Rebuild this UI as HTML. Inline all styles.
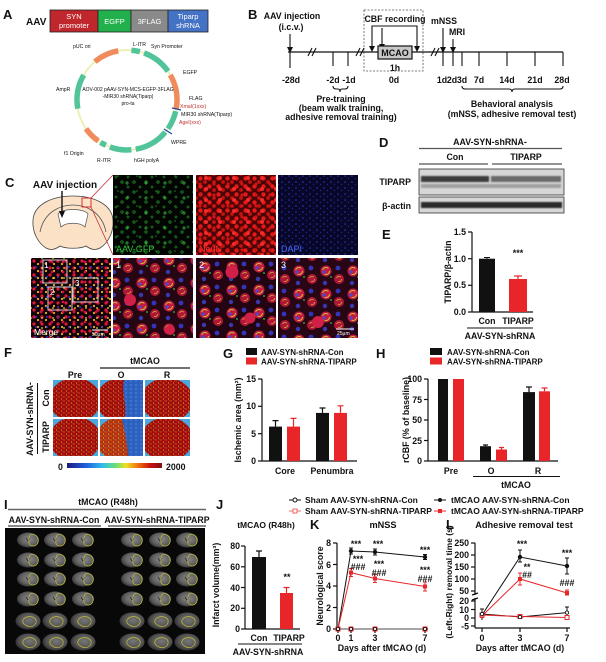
<!DOCTYPE html>
<html><head><meta charset="utf-8"><style>
html,body{margin:0;padding:0;background:#fff;}
svg{display:block;}
text{font-family:"Liberation Sans",Arial,sans-serif;font-weight:bold;fill:#111;}
.n{font-weight:normal;}
</style></head><body>
<svg width="606" height="662" viewBox="0 0 606 662" xmlns="http://www.w3.org/2000/svg">
<defs>
<pattern id="gfp" width="12" height="10" patternUnits="userSpaceOnUse"><circle cx="2" cy="2" r="1.2" fill="none" stroke="#2aa832" stroke-width="0.7"/><circle cx="8" cy="7" r="1" fill="none" stroke="#1f7f24" stroke-width="0.7"/></pattern>
<pattern id="gfp2" width="19" height="15" patternUnits="userSpaceOnUse"><circle cx="13" cy="3" r="1.1" fill="none" stroke="#38c440" stroke-width="0.7"/><circle cx="4" cy="11" r="0.8" fill="#227a22"/></pattern>
<pattern id="neun" width="9" height="8" patternUnits="userSpaceOnUse"><circle cx="2.5" cy="2.5" r="2.2" fill="#e81818"/><circle cx="7" cy="6" r="1.9" fill="#c81010"/></pattern>
<pattern id="neun2" width="14" height="11" patternUnits="userSpaceOnUse"><circle cx="10" cy="2" r="2" fill="#f52a2a"/><circle cx="4" cy="8" r="1.6" fill="#d01414"/></pattern>
<pattern id="dapi" width="7" height="6" patternUnits="userSpaceOnUse"><circle cx="2" cy="2" r="0.8" fill="#3434b8"/><circle cx="5.5" cy="4.5" r="0.7" fill="#24248a"/></pattern>
<pattern id="mrg" width="8" height="7" patternUnits="userSpaceOnUse"><circle cx="2" cy="2" r="1.6" fill="#e0183a"/><circle cx="6" cy="5" r="1.1" fill="#e8b020"/></pattern>
<pattern id="mrg2" width="11" height="10" patternUnits="userSpaceOnUse"><circle cx="8" cy="2" r="1.4" fill="#d01040"/><circle cx="3" cy="7" r="1" fill="#3030c0"/><circle cx="9" cy="8" r="0.9" fill="#e0e040"/></pattern>
<pattern id="cell" width="27" height="23" patternUnits="userSpaceOnUse">
<circle cx="7" cy="7" r="5.5" fill="#c41a44"/><circle cx="7" cy="7" r="3.5" fill="none" stroke="#c8c030" stroke-width="1" stroke-dasharray="7 5"/><circle cx="5" cy="8" r="1.6" fill="#4a4ac8"/>
<circle cx="20" cy="15" r="5" fill="#b01638"/><circle cx="20" cy="15" r="2.6" fill="none" stroke="#c8b030" stroke-width="0.8" stroke-dasharray="5 4"/>
<circle cx="19" cy="4" r="2.4" fill="#3434b8"/><circle cx="6" cy="19" r="2.2" fill="#3838b0"/><circle cx="12" cy="13" r="0.9" fill="#40c040"/>
</pattern>
<pattern id="spk" width="5" height="4" patternUnits="userSpaceOnUse"><circle cx="1" cy="1" r="0.7" fill="#f06a18"/><circle cx="3.5" cy="3" r="0.6" fill="#e8c030"/><circle cx="4.2" cy="0.6" r="0.35" fill="#5ab0e0"/></pattern>
<pattern id="spkb" width="5" height="4" patternUnits="userSpaceOnUse"><circle cx="1" cy="1" r="0.7" fill="#4ab0e8"/><circle cx="3.5" cy="3" r="0.5" fill="#2040a0"/></pattern>
<linearGradient id="cbar" x1="0" x2="1" y1="0" y2="0">
<stop offset="0" stop-color="#1a1a80"/><stop offset="0.2" stop-color="#2060e0"/><stop offset="0.38" stop-color="#30c0e8"/><stop offset="0.52" stop-color="#70e070"/><stop offset="0.62" stop-color="#f0e020"/><stop offset="0.75" stop-color="#f07010"/><stop offset="0.88" stop-color="#c81010"/><stop offset="1" stop-color="#801010"/></linearGradient>
<radialGradient id="mri" cx="0.55" cy="0.45" r="0.55"><stop offset="0" stop-color="#8a8a8a"/><stop offset="0.7" stop-color="#606060"/><stop offset="1" stop-color="#3a3a3a"/></radialGradient>
<filter id="bl"><feGaussianBlur stdDeviation="0.9"/></filter>
<g id="sl"><ellipse cx="0" cy="0" rx="11" ry="7.5" fill="url(#mri)"/><path d="M-2,-2 l2,3 l2,-3" stroke="#2a2a2a" stroke-width="0.8" fill="none"/><path d="M2,-5 C7,-7 11,-3 10,2 C9,6 5,7 2,5 C0,3 1,-2 2,-5Z" stroke="#c8c038" fill="none" stroke-width="0.7"/></g>
<g id="sl2"><ellipse cx="0" cy="0" rx="12.5" ry="8.5" fill="url(#mri)" opacity="0.85"/><path d="M-5,-1 C-2,-6 6,-5 8,-1 C9,4 4,7 -1,5 C-4,3 -6,2 -5,-1Z" stroke="#c8c038" fill="none" stroke-width="0.7"/></g>
</defs>

<!-- ===== A ===== -->
<text x="3" y="19" font-size="13">A</text>
<text x="26" y="25" font-size="10">AAV</text>
<rect x="50" y="10" width="48" height="22" fill="#c0272d" stroke="#222" stroke-width="0.8"/>
<rect x="98" y="10" width="33" height="22" fill="#22b04c" stroke="#222" stroke-width="0.8"/>
<rect x="131" y="10" width="37" height="22" fill="#8a8a8a" stroke="#222" stroke-width="0.8"/>
<rect x="168" y="10" width="40" height="22" fill="#4472c4" stroke="#222" stroke-width="0.8"/>
<g font-size="7.5" text-anchor="middle" class="n">
<text x="74" y="19" style="fill:#fff" class="n">SYN</text><text x="74" y="28" style="fill:#fff" class="n">promoter</text>
<text x="114.5" y="24" style="fill:#fff" class="n">EGFP</text>
<text x="149.5" y="24" style="fill:#fff" class="n">3FLAG</text>
<text x="188" y="19" style="fill:#fff" class="n">Tiparp</text><text x="188" y="28" style="fill:#fff" class="n">shRNA</text>
</g>
<circle cx="127" cy="100" r="50" fill="none" stroke="#eef0b8" stroke-width="2"/>
<g fill="none" stroke-width="5.5">
<path d="M131.4,50.2 A50,50 0 0 1 139.9,51.7" stroke="#52c49a"/>
<path d="M144.1,53 A50,50 0 0 1 168,71.3" stroke="#52c49a"/>
<path d="M170.3,75 A50,50 0 0 1 176.2,108.7" stroke="#f08c5c"/>
<path d="M175.7,111.2 A50,50 0 0 1 168,128.7" stroke="#52c49a"/>
<path d="M165.3,132.1 A50,50 0 0 1 135.7,149.2" stroke="#52c49a"/>
<path d="M131.4,149.8 A50,50 0 0 1 109.9,147" stroke="#52c49a"/>
<path d="M105.9,145.3 A50,50 0 0 1 100.5,142.4" stroke="#52c49a"/>
<path d="M98.3,141 A50,50 0 0 1 86,128.7" stroke="#f08c5c"/>
<path d="M77.8,108.7 A50,50 0 0 1 83.7,75" stroke="#52c49a"/>
<path d="M94.9,61.7 A50,50 0 0 1 118.3,50.8" stroke="#f08c5c"/>
</g>
<line x1="172" y1="108" x2="181" y2="110" stroke="#2040a0" stroke-width="1.2"/>
<line x1="164" y1="129" x2="172" y2="134" stroke="#2040a0" stroke-width="1.2"/>
<g font-size="5.2" class="n">
<text x="133" y="46" class="n">L-ITR</text>
<text x="73" y="48" class="n">pUC ori</text>
<text x="151" y="48" class="n">Syn Promoter</text>
<text x="183" y="74" class="n">EGFP</text>
<text x="56" y="91" class="n">AmpR</text>
<text x="189" y="100" class="n">FLAG</text>
<text x="180" y="108" style="fill:#c03030" class="n">XmaI(1xxx)</text>
<text x="181" y="116" class="n">MIR30 shRNA(Tiparp)</text>
<text x="179" y="124" style="fill:#c03030" class="n">AgeI(xxx)</text>
<text x="171" y="144" class="n">WPRE</text>
<text x="134" y="162" class="n">hGH polyA</text>
<text x="97" y="162" class="n">R-ITR</text>
<text x="64" y="155" class="n">f1 Origin</text>
</g>
<g font-size="5" text-anchor="middle" class="n">
<text x="128" y="91" class="n">AOV-002 pAAV-SYN-MCS-EGFP-3FLAG</text>
<text x="128" y="98" class="n">-MIR30 shRNA(Tiparp)</text>
<text x="128" y="105" class="n">pro-ta</text>
</g>

<!-- ===== B ===== -->
<text x="248" y="19" font-size="13">B</text>
<g font-size="8.8" text-anchor="middle">
<text x="292" y="19">AAV injection</text>
<text x="291" y="30">(i.c.v.)</text>
<text x="395" y="22">CBF recording</text>
<text x="444" y="24">mNSS</text>
<text x="457" y="35">MRI</text>
<text x="395" y="71">1h</text>
<text x="291" y="83">-28d</text><text x="333" y="83">-2d</text><text x="349" y="83">-1d</text>
<text x="394" y="83">0d</text>
<text x="442" y="83">1d</text><text x="452" y="83">2d</text><text x="462" y="83">3d</text>
<text x="479" y="83">7d</text><text x="507" y="83">14d</text><text x="535" y="83">21d</text><text x="562" y="83">28d</text>
<text x="341" y="102">Pre-training</text>
<text x="341" y="111">(beam walk training,</text>
<text x="341" y="120">adhesive removal training)</text>
<text x="512" y="107">Behavioral analysis</text>
<text x="512" y="117">(mNSS, adhesive removal test)</text>
</g>
<rect x="364" y="10" width="59" height="61" fill="none" stroke="#555" stroke-width="0.8" stroke-dasharray="2 1.5"/>
<line x1="288" y1="52" x2="563" y2="52" stroke="#111" stroke-width="1.3"/>
<g stroke="#111" stroke-width="1.1">
<line x1="308" y1="56" x2="312" y2="48"/><line x1="312" y1="56" x2="316" y2="48"/>
<line x1="356" y1="56" x2="360" y2="48"/><line x1="360" y1="56" x2="364" y2="48"/>
<line x1="431" y1="56" x2="435" y2="48"/><line x1="435" y1="56" x2="439" y2="48"/>
<line x1="290" y1="34" x2="290" y2="68"/>
<line x1="333" y1="52" x2="333" y2="66"/><line x1="348" y1="52" x2="348" y2="66"/>
<line x1="443" y1="28" x2="443" y2="66"/><line x1="453" y1="39" x2="453" y2="66"/>
<line x1="462" y1="52" x2="462" y2="66"/><line x1="479" y1="52" x2="479" y2="66"/>
<line x1="507" y1="52" x2="507" y2="66"/><line x1="535" y1="52" x2="535" y2="66"/><line x1="563" y1="52" x2="563" y2="66"/>
<polyline points="372,46 372,26 417,26 417,46" fill="none"/>
<line x1="382" y1="28" x2="382" y2="44"/>
<path d="M333,86 q0,3 3,3 h2 q2,0 2,3 q0,-3 2,-3 h3 q3,0 3,-3" fill="none"/>
<path d="M462,86 q0,3 3,3 h44 q3,0 3,3 q0,-3 3,-3 h45 q3,0 3,-3" fill="none"/>
</g>
<g fill="#111">
<polygon points="287,47 293,47 290,53"/>
<polygon points="369,46 375,46 372,52"/><polygon points="414,46 420,46 417,52"/><polygon points="379,44 385,44 382,49"/>
<polygon points="440,47 446,47 443,53"/><polygon points="450,47 456,47 453,53"/>
</g>
<rect x="378" y="46" width="34" height="13" fill="#c8c8c8" stroke="#111" stroke-width="1.2"/>
<text x="395" y="56" font-size="9" text-anchor="middle">MCAO</text>

<!-- ===== C ===== -->
<text x="5" y="187" font-size="13">C</text>
<text x="65" y="188" font-size="10" text-anchor="middle">AAV injection</text>
<path d="M73,196 C95,196 112,205 113,220 C114,232 108,243 100,248 C95,251 90,249 86,246 C80,249 66,249 60,246 C56,249 51,251 46,248 C38,243 32,232 33,220 C34,205 51,196 73,196 Z" fill="#fbe1c6" stroke="#444" stroke-width="0.8"/>
<path d="M40,232 C44,212 60,205 73,205 C86,205 102,212 106,232" fill="none" stroke="#555" stroke-width="0.8"/>
<path d="M58,214 C62,208 84,208 88,214 L85,227 C80,222 66,222 61,227 Z" fill="#fff" stroke="#555" stroke-width="0.7"/>
<line x1="62" y1="191" x2="62" y2="212" stroke="#111" stroke-width="1.4"/>
<polygon points="59,211 65,211 62,218" fill="#111"/>
<rect x="82" y="198" width="9" height="9" fill="none" stroke="#d02020" stroke-width="0.9"/>
<line x1="91" y1="198" x2="113" y2="175" stroke="#c02020" stroke-width="0.7"/>
<line x1="91" y1="207" x2="113" y2="255" stroke="#c02020" stroke-width="0.7"/>
<!-- row1 -->
<rect x="113" y="175" width="80" height="80" fill="#030503"/>
<rect x="113" y="175" width="80" height="80" fill="url(#gfp)"/>
<rect x="113" y="175" width="80" height="80" fill="url(#gfp2)"/>
<rect x="196" y="175" width="80" height="80" fill="#4a0606"/>
<rect x="196" y="175" width="80" height="80" fill="url(#neun)"/>
<rect x="196" y="175" width="80" height="80" fill="url(#neun2)"/>
<rect x="278" y="175" width="80" height="80" fill="#07072a"/>
<rect x="278" y="175" width="80" height="80" fill="url(#dapi)"/>
<text x="116" y="252" font-size="9" class="n" style="fill:#2ec23a">AAV-GFP</text>
<text x="199" y="252" font-size="9" class="n" style="fill:#ff3030">NeuN</text>
<text x="281" y="252" font-size="9" class="n" style="fill:#4a6aff">DAPI</text>
<!-- row2 -->
<rect x="31" y="258" width="80" height="80" fill="#120308"/>
<rect x="31" y="258" width="80" height="80" fill="url(#mrg)"/>
<rect x="31" y="258" width="80" height="80" fill="url(#mrg2)"/>
<g fill="none" stroke="#ddd" stroke-width="0.9">
<rect x="43" y="260" width="24" height="23"/><rect x="48" y="287" width="24" height="23"/><rect x="73" y="278" width="25" height="24"/>
</g>
<g font-size="8" class="n"><text x="44" y="268" style="fill:#fff" class="n">1</text><text x="50" y="295" style="fill:#fff" class="n">2</text><text x="75" y="286" style="fill:#fff" class="n">3</text></g>
<text x="34" y="335" font-size="8.5" class="n" style="fill:#fff">Merge</text>
<line x1="92" y1="330" x2="108" y2="330" stroke="#fff" stroke-width="1"/>
<text x="92" y="336" font-size="5" class="n" style="fill:#fff">50μm</text>
<rect x="113" y="258" width="80" height="80" fill="#260612"/>
<rect x="113" y="258" width="80" height="80" fill="url(#cell)"/>
<rect x="196" y="258" width="80" height="80" fill="#220510"/>
<g transform="translate(9,7)"><rect x="187" y="251" width="80" height="80" fill="url(#cell)"/></g>
<rect x="278" y="258" width="80" height="80" fill="#280614"/>
<g transform="translate(-5,11)"><rect x="283" y="247" width="80" height="80" fill="url(#cell)"/></g>
<g fill="#d02048"><circle cx="130" cy="300" r="6"/><circle cx="232" cy="272" r="6.5"/><circle cx="318" cy="322" r="6"/><circle cx="170" cy="330" r="5"/><circle cx="250" cy="318" r="5.5"/></g>
<rect x="193" y="258" width="3" height="80" fill="#fff"/><rect x="276" y="258" width="2" height="80" fill="#fff"/>
<g font-size="9" class="n"><text x="116" y="268" style="fill:#fff" class="n">1</text><text x="199" y="268" style="fill:#fff" class="n">2</text><text x="281" y="268" style="fill:#fff" class="n">3</text></g>
<line x1="336" y1="329" x2="354" y2="329" stroke="#fff" stroke-width="1"/>
<text x="337" y="335" font-size="5" class="n" style="fill:#fff">25μm</text>

<!-- ===== D ===== -->
<text x="379" y="147" font-size="13">D</text>
<text x="490" y="145" font-size="8.8" text-anchor="middle">AAV-SYN-shRNA-</text>
<line x1="419" y1="148.5" x2="562" y2="148.5" stroke="#555" stroke-width="1.2"/>
<text x="455" y="160" font-size="8.8" text-anchor="middle">Con</text>
<text x="526" y="160" font-size="8.8" text-anchor="middle">TIPARP</text>
<line x1="419" y1="164" x2="488" y2="164" stroke="#555" stroke-width="1.2"/>
<line x1="492" y1="164" x2="562" y2="164" stroke="#555" stroke-width="1.2"/>
<text x="411" y="185" font-size="8.8" text-anchor="end">TIPARP</text>
<text x="411" y="209" font-size="8.8" text-anchor="end">β-actin</text>
<rect x="419" y="169" width="145" height="26" fill="#d6d6d6" stroke="#333" stroke-width="0.8"/>
<g filter="url(#bl)">
<rect x="421" y="176" width="68" height="6" fill="#3a3a3a"/>
<rect x="491" y="176" width="70" height="6" fill="#6a6a6a"/>
<rect x="421" y="184" width="140" height="4" fill="#a0a0a0"/>
</g>
<rect x="419" y="197" width="145" height="16" fill="#d6d6d6" stroke="#333" stroke-width="0.8"/>
<rect x="421" y="202" width="141" height="6" fill="#2a2a2a" filter="url(#bl)"/>

<!-- ===== E ===== -->
<text x="382" y="239" font-size="13">E</text>
<g stroke="#111" stroke-width="1.2">
<line x1="472" y1="232" x2="472" y2="312"/><line x1="472" y1="312" x2="533" y2="312"/>
<line x1="468" y1="232" x2="472" y2="232"/><line x1="468" y1="258.7" x2="472" y2="258.7"/><line x1="468" y1="285.3" x2="472" y2="285.3"/><line x1="468" y1="312" x2="472" y2="312"/>
</g>
<g font-size="8.8" text-anchor="end"><text x="466" y="235">1.5</text><text x="466" y="262">1.0</text><text x="466" y="288">0.5</text><text x="466" y="315">0.0</text></g>
<rect x="479" y="258.7" width="16" height="53.3" fill="#111"/>
<line x1="487" y1="257.5" x2="487" y2="258.7" stroke="#111"/><line x1="484" y1="257.5" x2="490" y2="257.5" stroke="#111"/>
<rect x="509" y="279" width="18" height="33" fill="#e8262a"/>
<line x1="518" y1="276" x2="518" y2="279" stroke="#e8262a" stroke-width="1.2"/><line x1="514" y1="276" x2="522" y2="276" stroke="#e8262a" stroke-width="1.2"/>
<text x="518" y="256" font-size="9" text-anchor="middle">***</text>
<text x="487" y="324" font-size="8.8" text-anchor="middle">Con</text>
<text x="518" y="324" font-size="8.8" text-anchor="middle">TIPARP</text>
<line x1="467" y1="328" x2="533" y2="328" stroke="#111" stroke-width="1"/>
<text x="500" y="339" font-size="8.8" text-anchor="middle">AAV-SYN-shRNA</text>
<text transform="translate(451,272) rotate(-90)" font-size="8.8" text-anchor="middle">TIPARP/β-actin</text>

<!-- ===== F ===== -->
<text x="4" y="357" font-size="13">F</text>
<text x="145" y="364" font-size="8.8" text-anchor="middle">tMCAO</text>
<line x1="100" y1="368" x2="190" y2="368" stroke="#444" stroke-width="1.6"/>
<g font-size="8.8" text-anchor="middle"><text x="75" y="378">Pre</text><text x="121" y="378">O</text><text x="167" y="378">R</text></g>
<text transform="translate(33,419) rotate(-90)" font-size="8.8" text-anchor="middle">AAV-SYN-shRNA-</text>
<line x1="37.5" y1="383" x2="37.5" y2="454" stroke="#111" stroke-width="1"/>
<text transform="translate(49,398) rotate(-90)" font-size="8.8" text-anchor="middle">Con</text>
<text transform="translate(49,437) rotate(-90)" font-size="8.8" text-anchor="middle">TIPARP</text>
<!-- tiles -->
<svg x="53" y="380" width="45" height="37"><rect width="45" height="37" fill="#4aa8dc"/><ellipse cx="22" cy="20" rx="26" ry="22" fill="#a00c0c"/><ellipse cx="22" cy="20" rx="26" ry="22" fill="url(#spk)" opacity="0.75"/></svg>
<svg x="100" y="380" width="43" height="37"><rect width="43" height="37" fill="#4aa8dc"/><ellipse cx="21" cy="20" rx="25" ry="22" fill="#a00c0c"/><ellipse cx="21" cy="20" rx="25" ry="22" fill="url(#spk)" opacity="0.8"/><path d="M24,0 C21,12 27,22 25,37 L43,37 L43,0 Z" fill="#2f62c0"/><path d="M24,0 C21,12 27,22 25,37 L43,37 L43,0 Z" fill="url(#spkb)" opacity="0.7"/></svg>
<svg x="145" y="380" width="45" height="37"><rect width="45" height="37" fill="#4aa8dc"/><ellipse cx="22" cy="20" rx="26" ry="22" fill="#a00c0c"/><ellipse cx="22" cy="20" rx="26" ry="22" fill="url(#spk)" opacity="0.85"/></svg>
<svg x="53" y="419" width="45" height="37"><rect width="45" height="37" fill="#4aa8dc"/><ellipse cx="22" cy="20" rx="26" ry="22" fill="#a00c0c"/><ellipse cx="22" cy="20" rx="26" ry="22" fill="url(#spk)" opacity="0.85"/></svg>
<svg x="100" y="419" width="43" height="37"><rect width="43" height="37" fill="#4aa8dc"/><ellipse cx="21" cy="20" rx="25" ry="22" fill="#b03010"/><ellipse cx="21" cy="20" rx="25" ry="22" fill="url(#spk)"/><path d="M22,0 C24,10 27,20 28,37 L43,37 L43,0 Z" fill="#2f62c0"/><path d="M22,0 C24,10 27,20 28,37 L43,37 L43,0 Z" fill="url(#spkb)" opacity="0.6"/></svg>
<svg x="145" y="419" width="45" height="37"><rect width="45" height="37" fill="#4aa8dc"/><ellipse cx="22" cy="20" rx="26" ry="22" fill="#a00c0c"/><ellipse cx="22" cy="20" rx="26" ry="22" fill="url(#spk)" opacity="0.8"/></svg>
<rect x="67" y="463" width="95" height="5" fill="url(#cbar)"/>
<text x="58" y="470" font-size="8.8">0</text>
<text x="166" y="470" font-size="8.8">2000</text>

<!-- ===== G ===== -->
<text x="223" y="358" font-size="13">G</text>
<rect x="246" y="348" width="11" height="7" fill="#111"/><rect x="246" y="357.5" width="11" height="7" fill="#e8262a"/>
<text x="261" y="355" font-size="8">AAV-SYN-shRNA-Con</text>
<text x="261" y="364.5" font-size="8">AAV-SYN-shRNA-TIPARP</text>
<g stroke="#111" stroke-width="1.2">
<line x1="262" y1="379" x2="262" y2="461"/><line x1="262" y1="461" x2="357" y2="461"/>
<line x1="258" y1="379" x2="262" y2="379"/><line x1="258" y1="406.3" x2="262" y2="406.3"/><line x1="258" y1="433.7" x2="262" y2="433.7"/><line x1="258" y1="461" x2="262" y2="461"/>
</g>
<g font-size="8.8" text-anchor="end"><text x="256" y="382">15</text><text x="256" y="409">10</text><text x="256" y="437">5</text><text x="256" y="464">0</text></g>
<rect x="269" y="426.6" width="13" height="34.4" fill="#111"/>
<rect x="287" y="426.6" width="13" height="34.4" fill="#e8262a"/>
<rect x="316" y="412.9" width="13" height="48.1" fill="#111"/>
<rect x="334" y="412.9" width="13" height="48.1" fill="#e8262a"/>
<g stroke-width="1.2">
<path d="M275.5,426.6 V420.6 M272.5,420.6 H278.5" stroke="#111"/>
<path d="M293.5,426.6 V418.4 M290.5,418.4 H296.5" stroke="#e8262a"/>
<path d="M322.5,412.9 V408 M319.5,408 H325.5" stroke="#111"/>
<path d="M340.5,412.9 V405.8 M337.5,405.8 H343.5" stroke="#e8262a"/>
</g>
<text x="285" y="474" font-size="8.8" text-anchor="middle">Core</text>
<text x="332" y="474" font-size="8.8" text-anchor="middle">Penumbra</text>
<text transform="translate(241,420) rotate(-90)" font-size="8.8" text-anchor="middle">Ischemic area (mm²)</text>

<!-- ===== H ===== -->
<text x="376" y="358" font-size="13">H</text>
<rect x="430" y="348" width="12" height="7" fill="#111"/><rect x="430" y="357.5" width="12" height="7" fill="#e8262a"/>
<text x="447" y="355" font-size="8">AAV-SYN-shRNA-Con</text>
<text x="447" y="364.5" font-size="8">AAV-SYN-shRNA-TIPARP</text>
<g stroke="#111" stroke-width="1.2">
<line x1="428" y1="379" x2="428" y2="461"/><line x1="428" y1="461" x2="558" y2="461"/>
<line x1="424" y1="379" x2="428" y2="379"/><line x1="424" y1="399.5" x2="428" y2="399.5"/><line x1="424" y1="420" x2="428" y2="420"/><line x1="424" y1="440.5" x2="428" y2="440.5"/><line x1="424" y1="461" x2="428" y2="461"/>
</g>
<g font-size="8.8" text-anchor="end"><text x="422" y="382">100</text><text x="422" y="403">75</text><text x="422" y="423">50</text><text x="422" y="444">25</text><text x="422" y="464">0</text></g>
<rect x="438" y="379" width="10" height="82" fill="#111"/>
<rect x="453" y="379" width="11" height="82" fill="#e8262a"/>
<rect x="480" y="446.2" width="11" height="14.8" fill="#111"/>
<rect x="496" y="449.5" width="11" height="11.5" fill="#e8262a"/>
<rect x="523" y="392.1" width="12" height="68.9" fill="#111"/>
<rect x="539" y="391.3" width="11" height="69.7" fill="#e8262a"/>
<g stroke-width="1.2">
<path d="M485.5,446.2 V445 M483,445 H488" stroke="#111"/>
<path d="M501.5,449.5 V447.5 M499,447.5 H504" stroke="#e8262a"/>
<path d="M529,392.1 V387 M526,387 H532" stroke="#111"/>
<path d="M544.5,391.3 V388 M541.5,388 H547.5" stroke="#e8262a"/>
</g>
<g font-size="8.8" text-anchor="middle"><text x="451" y="474">Pre</text><text x="491" y="474">O</text><text x="538" y="474">R</text></g>
<line x1="473" y1="476.5" x2="560" y2="476.5" stroke="#111" stroke-width="1"/>
<text x="516" y="488" font-size="8.8" text-anchor="middle">tMCAO</text>
<text transform="translate(409,420) rotate(-90)" font-size="8.8" text-anchor="middle">rCBF (% of baseline)</text>

<!-- ===== legend K/L ===== -->
<g font-size="8.5">
<text x="305" y="503">Sham AAV-SYN-shRNA-Con</text>
<text x="305" y="514">Sham AAV-SYN-shRNA-TIPARP</text>
<text x="451" y="503">tMCAO AAV-SYN-shRNA-Con</text>
<text x="451" y="514">tMCAO AAV-SYN-shRNA-TIPARP</text>
</g>
<line x1="289" y1="500" x2="301" y2="500" stroke="#111" stroke-width="1"/><circle cx="295" cy="500" r="2" fill="#fff" stroke="#111" stroke-width="1"/>
<line x1="289" y1="511" x2="301" y2="511" stroke="#f07070" stroke-width="1"/><rect x="293" y="509" width="4" height="4" fill="#fff" stroke="#f06060" stroke-width="1"/>
<line x1="434" y1="500" x2="446" y2="500" stroke="#111" stroke-width="1"/><circle cx="440" cy="500" r="2" fill="#111"/>
<line x1="434" y1="511" x2="446" y2="511" stroke="#e8262a" stroke-width="1"/><rect x="438" y="509" width="4" height="4" fill="#e8262a"/>

<!-- ===== I ===== -->
<text x="4" y="509" font-size="13">I</text>
<text x="108" y="505" font-size="8.8" text-anchor="middle">tMCAO (R48h)</text>
<line x1="8" y1="509.5" x2="206" y2="509.5" stroke="#666" stroke-width="1.6"/>
<text x="54" y="523" font-size="8.8" text-anchor="middle">AAV-SYN-shRNA-Con</text>
<text x="157" y="523" font-size="8.8" text-anchor="middle">AAV-SYN-shRNA-TIPARP</text>
<line x1="8" y1="526" x2="101" y2="526" stroke="#111" stroke-width="1"/>
<line x1="108" y1="526" x2="206" y2="526" stroke="#111" stroke-width="1"/>
<rect x="5" y="528" width="200" height="126" fill="#080808"/>
<g>
<use href="#sl" x="28" y="540"/><use href="#sl" x="55" y="540"/><use href="#sl" x="83" y="540"/>
<use href="#sl" x="28" y="560"/><use href="#sl" x="55" y="560"/><use href="#sl" x="83" y="560"/>
<use href="#sl" x="28" y="579"/><use href="#sl" x="55" y="579"/><use href="#sl" x="83" y="579"/>
<use href="#sl" x="28" y="599"/><use href="#sl" x="55" y="599"/><use href="#sl" x="83" y="599"/>
<use href="#sl2" x="28" y="621"/><use href="#sl2" x="55" y="621"/><use href="#sl2" x="83" y="621"/>
<use href="#sl2" x="28" y="642"/><use href="#sl2" x="55" y="642"/><use href="#sl2" x="83" y="642"/>
<use href="#sl" x="132" y="540"/><use href="#sl" x="160" y="540"/><use href="#sl" x="187" y="540"/>
<use href="#sl" x="132" y="560"/><use href="#sl" x="160" y="560"/><use href="#sl" x="187" y="560"/>
<use href="#sl" x="132" y="579"/><use href="#sl" x="160" y="579"/><use href="#sl" x="187" y="579"/>
<use href="#sl" x="132" y="599"/><use href="#sl" x="160" y="599"/><use href="#sl" x="187" y="599"/>
<use href="#sl2" x="132" y="621"/><use href="#sl2" x="160" y="621"/><use href="#sl2" x="187" y="621"/>
<use href="#sl2" x="132" y="642"/><use href="#sl2" x="160" y="642"/><use href="#sl2" x="187" y="642"/>
</g>

<!-- ===== J ===== -->
<text x="216" y="509" font-size="13">J</text>
<text x="266" y="528" font-size="8.5" text-anchor="middle">tMCAO (R48h)</text>
<g stroke="#111" stroke-width="1.2">
<line x1="245" y1="546" x2="245" y2="629"/><line x1="245" y1="629" x2="300" y2="629"/>
<line x1="241" y1="546" x2="245" y2="546"/><line x1="241" y1="566.8" x2="245" y2="566.8"/><line x1="241" y1="587.5" x2="245" y2="587.5"/><line x1="241" y1="608.3" x2="245" y2="608.3"/><line x1="241" y1="629" x2="245" y2="629"/>
</g>
<g font-size="8.8" text-anchor="end"><text x="240" y="549">80</text><text x="240" y="570">60</text><text x="240" y="591">40</text><text x="240" y="611">20</text><text x="240" y="632">0</text></g>
<rect x="252" y="557" width="14" height="72" fill="#111"/>
<path d="M259,557 V551 M256,551 H262" stroke="#111" stroke-width="1.2"/>
<rect x="280" y="593" width="13" height="36" fill="#e8262a"/>
<path d="M286.5,593 V587.5 M283.5,587.5 H289.5" stroke="#e8262a" stroke-width="1.2"/>
<text x="287" y="580" font-size="9" text-anchor="middle">**</text>
<text x="259" y="641" font-size="8.8" text-anchor="middle">Con</text>
<text x="289" y="641" font-size="8.8" text-anchor="middle">TIPARP</text>
<line x1="238" y1="644" x2="302" y2="644" stroke="#111" stroke-width="1"/>
<text x="268" y="655" font-size="8.8" text-anchor="middle">AAV-SYN-shRNA</text>
<text transform="translate(219,585) rotate(-90)" font-size="8.8" text-anchor="middle">Infarct volume(mm³)</text>

<!-- ===== K ===== -->
<text x="310" y="529" font-size="13">K</text>
<text x="383" y="528" font-size="9.2" text-anchor="middle">mNSS</text>
<g stroke="#111" stroke-width="1.2">
<line x1="337" y1="543" x2="337" y2="629"/><line x1="337" y1="629" x2="428" y2="629"/>
<line x1="333" y1="543" x2="337" y2="543"/><line x1="333" y1="564.5" x2="337" y2="564.5"/><line x1="333" y1="586" x2="337" y2="586"/><line x1="333" y1="607.5" x2="337" y2="607.5"/><line x1="333" y1="629" x2="337" y2="629"/>
<line x1="338" y1="629" x2="338" y2="633"/><line x1="351" y1="629" x2="351" y2="633"/><line x1="375" y1="629" x2="375" y2="633"/><line x1="425" y1="629" x2="425" y2="633"/>
</g>
<g font-size="8.8" text-anchor="end"><text x="331" y="546">8</text><text x="331" y="568">6</text><text x="331" y="589">4</text><text x="331" y="611">2</text><text x="331" y="632">0</text></g>
<g font-size="8.8" text-anchor="middle"><text x="338" y="641">0</text><text x="351" y="641">1</text><text x="375" y="641">3</text><text x="425" y="641">7</text></g>
<text x="382" y="651" font-size="8.8" text-anchor="middle">Days after tMCAO (d)</text>
<text transform="translate(323,586) rotate(-90)" font-size="8.8" text-anchor="middle">Neurological score</text>
<polyline points="338,629 351,551 375,552 425,557" fill="none" stroke="#111" stroke-width="1"/>
<polyline points="338,629 351,572.6 375,578.5 425,586.5" fill="none" stroke="#e8262a" stroke-width="1"/>
<line x1="338" y1="629" x2="425" y2="629" stroke="#888" stroke-width="1"/>
<g stroke="#111" stroke-width="1"><path d="M351,548 V554 M349,548 H353 M349,554 H353 M375,549 V555 M373,549 H377 M373,555 H377 M425,554.5 V559.5 M423,554.5 H427 M423,559.5 H427"/></g>
<g stroke="#e8262a" stroke-width="1"><path d="M351,568.5 V576.5 M349,568.5 H353 M349,576.5 H353 M375,574.5 V582.5 M373,574.5 H377 M373,582.5 H377 M425,582 V591 M423,582 H427 M423,591 H427"/></g>
<g fill="#111"><circle cx="351" cy="551" r="2.2"/><circle cx="375" cy="552" r="2.2"/><circle cx="425" cy="557" r="2.2"/></g>
<g fill="#e8262a"><rect x="349" y="570.6" width="4" height="4"/><rect x="373" y="576.5" width="4" height="4"/><rect x="423" y="584.5" width="4" height="4"/></g>
<g fill="#fff" stroke="#e8262a" stroke-width="1"><rect x="336" y="627" width="4" height="4"/><rect x="349" y="627" width="4" height="4"/><rect x="373" y="627" width="4" height="4"/><rect x="423" y="627" width="4" height="4"/></g>
<g fill="#fff" stroke="#111" stroke-width="0.9"><circle cx="338" cy="629" r="1.6"/><circle cx="351" cy="629" r="1.6"/><circle cx="375" cy="629" r="1.6"/><circle cx="425" cy="629" r="1.6"/></g>
<g font-size="8.8" text-anchor="middle">
<text x="356" y="547">***</text><text x="378" y="547">***</text><text x="425" y="553">***</text>
<text x="358" y="562">***</text><text x="358" y="570">###</text>
<text x="379" y="567">***</text><text x="379" y="576">###</text>
<text x="425" y="573">***</text><text x="425" y="582">###</text>
</g>

<!-- ===== L ===== -->
<text x="446" y="529" font-size="13">L</text>
<text x="524" y="528" font-size="9.2" text-anchor="middle">Adhesive removal test</text>
<g stroke="#111" stroke-width="1.2">
<line x1="475" y1="543" x2="475" y2="595"/><line x1="475" y1="598" x2="475" y2="628"/>
<line x1="472" y1="595" x2="478" y2="593"/><line x1="472" y1="600" x2="478" y2="598"/>
<line x1="475" y1="628" x2="570" y2="628"/>
<line x1="471" y1="543" x2="475" y2="543"/><line x1="471" y1="555" x2="475" y2="555"/><line x1="471" y1="567" x2="475" y2="567"/><line x1="471" y1="579" x2="475" y2="579"/><line x1="471" y1="591" x2="475" y2="591"/>
<line x1="471" y1="601" x2="475" y2="601"/><line x1="471" y1="609.5" x2="475" y2="609.5"/><line x1="471" y1="618" x2="475" y2="618"/><line x1="471" y1="626" x2="475" y2="626"/>
<line x1="482" y1="628" x2="482" y2="632"/><line x1="520" y1="628" x2="520" y2="632"/><line x1="567" y1="628" x2="567" y2="632"/>
</g>
<g font-size="8.8" text-anchor="end"><text x="469" y="546">250</text><text x="469" y="558">200</text><text x="469" y="570">150</text><text x="469" y="582">100</text><text x="469" y="594">50</text><text x="469" y="604">20</text><text x="469" y="613">10</text><text x="469" y="621">0</text><text x="469" y="629.5">-5</text></g>
<g font-size="8.8" text-anchor="middle"><text x="482" y="641">0</text><text x="520" y="641">3</text><text x="567" y="641">7</text></g>
<text x="520" y="651" font-size="8.8" text-anchor="middle">Days after tMCAO (d)</text>
<text transform="translate(452,582) rotate(-90)" font-size="8.5" text-anchor="middle">(Left-Right) removal time (s)</text>
<polyline points="482,615 520,557 567,566" fill="none" stroke="#111" stroke-width="1"/>
<polyline points="482,616 520,579 567,593" fill="none" stroke="#e8262a" stroke-width="1"/>
<polyline points="482,614 520,617 567,612.6" fill="none" stroke="#111" stroke-width="1"/>
<polyline points="482,615 520,616.5 567,617.5" fill="none" stroke="#e8262a" stroke-width="1"/>
<g stroke="#111" stroke-width="1"><path d="M520,550 V562 M518,550 H522 M518,562 H522 M567,558 V574 M565,558 H569 M565,574 H569 M567,607 V613 M565,607 H569 M482,609 V620 M480,609 H484"/></g>
<g stroke="#e8262a" stroke-width="1"><path d="M520,573 V585 M518,573 H522 M518,585 H522 M567,590 V595 M565,590 H569 M565,595 H569"/></g>
<g fill="#111"><circle cx="482" cy="615" r="2.2"/><circle cx="520" cy="557" r="2.2"/><circle cx="567" cy="566" r="2.2"/></g>
<g fill="#e8262a"><rect x="480" y="614" width="4" height="4"/><rect x="518" y="577" width="4" height="4"/><rect x="565" y="591" width="4" height="4"/></g>
<g fill="#fff" stroke="#e8262a" stroke-width="1"><rect x="480" y="613" width="4" height="4"/><rect x="518" y="614.5" width="4" height="4"/><rect x="565" y="615.5" width="4" height="4"/></g>
<g fill="#fff" stroke="#111" stroke-width="0.9"><circle cx="482" cy="614" r="1.7"/><circle cx="520" cy="617" r="1.7"/><circle cx="567" cy="612.6" r="1.7"/></g>
<g font-size="8.8" text-anchor="middle">
<text x="522" y="547">***</text><text x="567" y="556">***</text>
<text x="527" y="570">**</text><text x="527" y="578">##</text>
<text x="567" y="586">###</text>
</g>
</svg>
</body></html>
